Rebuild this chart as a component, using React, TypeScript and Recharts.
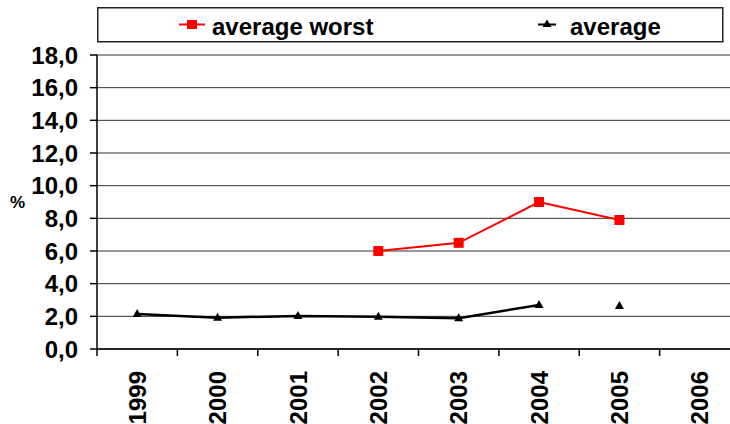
import React from 'react';
import {
  LineChart,
  Line,
  XAxis,
  YAxis,
  CartesianGrid,
  Legend,
  Label,
} from 'recharts';

// Valeurs (%)
const years = ['1999', '2000', '2001', '2002', '2003', '2004', '2005', '2006'];
const averageWorst = [null, null, null, 6.0, 6.5, 9.0, 7.9, null];
const average = [2.15, 1.92, 2.02, 1.98, 1.88, 2.7, null, null];
// point 2005 non relié à la courbe
const averageLoose = [null, null, null, null, null, null, 2.63, null];
const yTicks = [0, 2, 4, 6, 8, 10, 12, 14, 16, 18];

const data = years.map((year, i) => ({
  year,
  worst: averageWorst[i],
  avg: average[i],
  avgLoose: averageLoose[i],
}));

const FONT = '"Liberation Sans", Arial, sans-serif';

const Square = (props: any) => {
  const { cx, cy } = props;
  if (cx == null || cy == null) return null;
  return <rect x={cx - 5} y={cy - 5} width={10} height={10} fill="#ff0000" />;
};

const Triangle = (props: any) => {
  const { cx, cy } = props;
  if (cx == null || cy == null) return null;
  return (
    <path
      d={`M${cx},${cy - 5} L${cx + 4.5},${cy + 3} L${cx - 4.5},${cy + 3} Z`}
      fill="#000"
    />
  );
};

const YearTick = (props: any) => {
  const { x, y, payload } = props;
  const half = payload && payload.offset ? payload.offset : 40;
  return (
    <g>
      <line x1={x - half} y1={y - 7} x2={x - half} y2={y} stroke="#000" strokeWidth={1.5} />
      <text
        transform={`translate(${x},${y + 15}) rotate(-90)`}
        textAnchor="end"
        dy="0.36em"
        fontFamily={FONT}
        fontWeight="bold"
        fontSize={24}
        fill="#000"
      >
        {payload.value}
      </text>
    </g>
  );
};

const LegendBox = () => (
  <svg width={627} height={36}>
    <rect x={0.75} y={0.75} width={625} height={34} fill="#fff" stroke="#222" strokeWidth={1.5} />
    <line x1={82} y1={17.5} x2={108} y2={17.5} stroke="#ff0000" strokeWidth={2} />
    <rect x={90} y={13} width={10} height={9} fill="#ff0000" />
    <text x={115} y={28} fontFamily={FONT} fontWeight="bold" fontSize={24} fill="#000">
      average worst
    </text>
    <line x1={441} y1={17.5} x2={459} y2={17.5} stroke="#000" strokeWidth={2} />
    <path d="M450,12.5 L454.5,20 L445.5,20 Z" fill="#000" />
    <text x={473} y={28} fontFamily={FONT} fontWeight="bold" fontSize={24} fill="#000">
      average
    </text>
  </svg>
);

export default function App() {
  return (
    <div style={{ position: 'fixed', left: 0, top: 0, width: 730, height: 424, overflow: 'hidden', background: '#fff' }}>
      <LineChart width={760} height={424} data={data} margin={{ top: 55, right: 20, bottom: 0, left: 0 }}>
        <CartesianGrid vertical={false} stroke="#333" strokeWidth={1} />
        <XAxis
          dataKey="year"
          scale="band"
          height={75}
          tickLine={false}
          tickSize={7}
          tickMargin={0}
          interval={0}
          axisLine={{ stroke: '#000', strokeWidth: 1.5 }}
          tick={<YearTick />}
        />
        <YAxis
          width={97}
          domain={[0, 18]}
          ticks={yTicks}
          interval={0}
          tickSize={7}
          tickMargin={12}
          tickFormatter={(v: number) => v.toFixed(1).replace('.', ',')}
          tick={{ fill: '#000', fontFamily: FONT, fontWeight: 'bold', fontSize: 24 }}
          axisLine={{ stroke: '#000', strokeWidth: 1.5 }}
          tickLine={{ stroke: '#000', strokeWidth: 1.5 }}
        >
          <Label
            value="%"
            position="insideLeft"
            offset={10}
            fill="#000"
            style={{ fontFamily: FONT, fontWeight: 'bold', fontSize: 17 }}
          />
        </YAxis>
        <Legend
          verticalAlign="middle"
          align="center"
          wrapperStyle={{ position: 'absolute', left: 97, top: 7, width: 627, height: 36 }}
          content={<LegendBox />}
        />
        <Line
          dataKey="worst"
          name="average worst"
          stroke="#ff0000"
          strokeWidth={2}
          dot={<Square />}
          activeDot={false}
          isAnimationActive={false}
        />
        <Line
          dataKey="avg"
          name="average"
          stroke="#000"
          strokeWidth={2.5}
          dot={<Triangle />}
          activeDot={false}
          isAnimationActive={false}
        />
        <Line
          dataKey="avgLoose"
          name="average 2005"
          stroke="none"
          legendType="none"
          dot={<Triangle />}
          activeDot={false}
          isAnimationActive={false}
        />
      </LineChart>
    </div>
  );
}
